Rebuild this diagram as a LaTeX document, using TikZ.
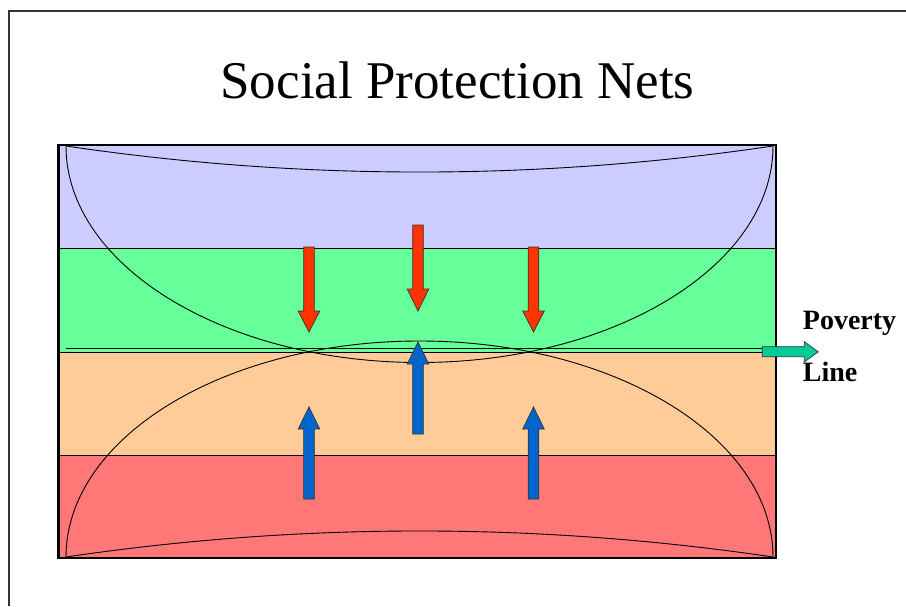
\documentclass[tikz,border=0pt]{standalone}
\usepackage{fontspec}
\setmainfont{Liberation Serif}
\definecolor{bandblue}{HTML}{CCCCFF}
\definecolor{bandgreen}{HTML}{66FF99}
\definecolor{bandorange}{HTML}{FFCC99}
\definecolor{bandred}{HTML}{FF7777}
\definecolor{arrred}{HTML}{FF3300}
\definecolor{arrblue}{HTML}{0066CC}
\definecolor{arrteal}{HTML}{00CC99}
\tikzset{
  band/.style={draw=black, line width=1pt},
  netcurve/.style={draw=black, line width=0.9pt},
  blockarrow/.style={draw=black!80, line width=0.7pt, line join=miter},
  frameline/.style={draw=black!80, line width=1.3pt},
  mainborder/.style={draw=black, line width=2.6pt},
  title/.style={font=\rmfamily\fontsize{53}{60}\selectfont, anchor=base},
  sidelabel/.style={font=\rmfamily\fontsize{28}{32}\selectfont\bfseries, anchor=base west, inner sep=0pt}
}
% vertical block arrow: centre x, start y, head base y, tip y, colour
\newcommand\vblockarrow[5]{%
  \path[blockarrow, fill=#5] ({#1-5.3},#2) -- ({#1+5.3},#2) -- ({#1+5.3},#3) -- ({#1+10.8},#3)
    -- (#1,#4) -- ({#1-10.8},#3) -- ({#1-5.3},#3) -- cycle;}
\begin{document}
\begin{tikzpicture}[x=1pt, y=-1pt]
\useasboundingbox (0,0) rectangle (906,606);
% slide frame
\draw[frameline] (9,606) -- (9,11) -- (906,11);
% title
\node[title] (title) at (457.5,98) {Social Protection Nets};
% bands
\path[band, fill=bandblue]   (58.5,145) rectangle (776,248);
\path[band, fill=bandgreen]  (58.5,248) rectangle (776,352);
\path[band, fill=bandorange] (58.5,352) rectangle (776,455);
\path[band, fill=bandred]    (58.5,455) rectangle (776,558);
% upper net
\path[netcurve] (66,146) .. controls (66,265.3) and (224.3,362.5) .. (419.5,362.5)
  .. controls (614.7,362.5) and (773,265.3) .. (773,146);
\path[netcurve] (66,146) .. controls (300.7,180.7) and (538.3,180.7) .. (773,146);
% lower net
\path[netcurve] (66,557) .. controls (66,437.7) and (224.3,341) .. (419.5,341)
  .. controls (614.7,341) and (773,437.7) .. (773,557);
\path[netcurve] (66,557) .. controls (300.7,522.3) and (538.3,522.3) .. (773,557);
% poverty line
\coordinate (pl-start) at (66,348.7);
\coordinate (pl-end) at (763,348.7);
\draw[line width=1pt] (pl-start) -- (pl-end);
% red arrows (downwards)
\vblockarrow{309}{247}{311}{332}{arrred}
\vblockarrow{418}{225}{289}{311}{arrred}
\vblockarrow{533.5}{247}{311}{332}{arrred}
% blue arrows (upwards)
\vblockarrow{418}{434}{364}{342}{arrblue}
\vblockarrow{309}{499}{429}{407}{arrblue}
\vblockarrow{533.5}{499}{429}{407}{arrblue}
% main border
\draw[mainborder] (58.5,145) rectangle (776,558);
% poverty line arrow
\path[blockarrow, fill=arrteal] (762.3,346.7) -- (804.3,346.7) -- (804.3,341.7) -- (818.3,351.8)
  -- (804.3,362) -- (804.3,356.7) -- (762.3,356.7) -- cycle;
% label
\node[sidelabel] (poverty) at (802.7,329.3) {Poverty};
\node[sidelabel] (line) at (802.7,381.7) {Line};
\end{tikzpicture}
\end{document}
